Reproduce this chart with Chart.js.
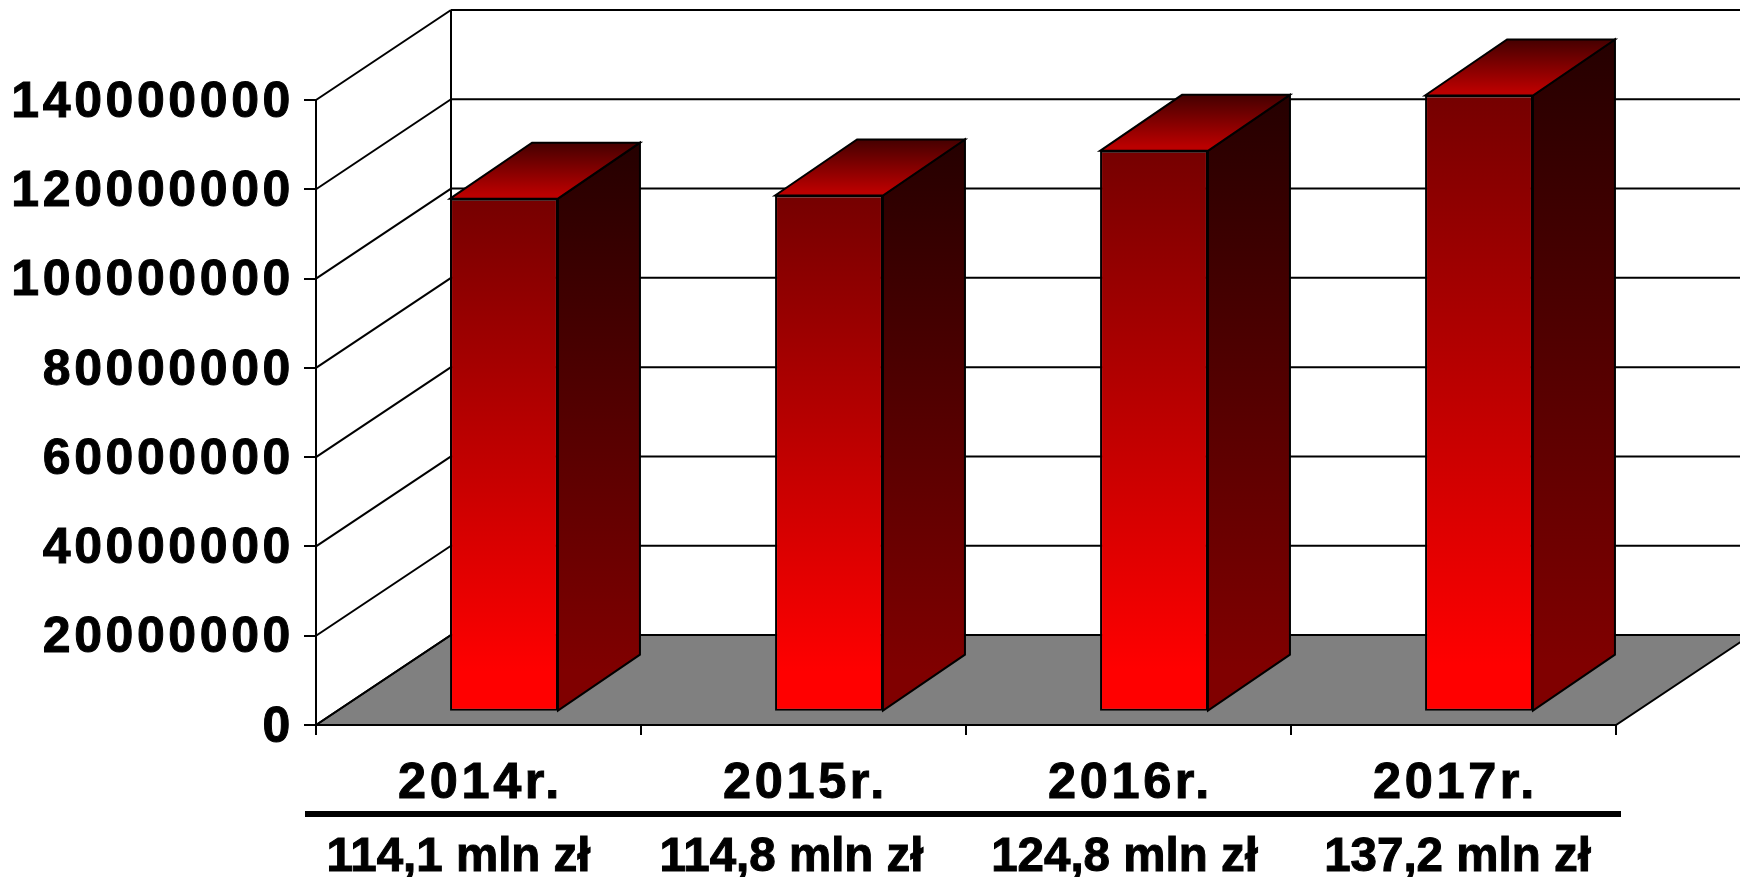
<!DOCTYPE html>
<html>
<head>
<meta charset="utf-8">
<script src="https://cdn.jsdelivr.net/npm/chart.js@4"></script>
<style>
  html, body { margin: 0; padding: 0; background: #fff; overflow: hidden; }
  canvas { display: block; }
</style>
</head>
<body>
<canvas id="barChart" width="1740" height="877"></canvas>
<script>
// Chart data
const years = ['2014r.', '2015r.', '2016r.', '2017r.'];
const budget = [114100000, 114800000, 124800000, 137200000];
const budgetLabels = ['114,1 mln zł', '114,8 mln zł', '124,8 mln zł', '137,2 mln zł'];

// Fake 3D: how far the back wall and the bars are pushed
const wallX = 135, wallY = 90;
const barShiftX = 25.5, barShiftY = 17;
const barDepthX = 82, barDepthY = 56;

function line(ctx, x1, y1, x2, y2) {
  ctx.beginPath();
  ctx.moveTo(x1, y1);
  ctx.lineTo(x2, y2);
  ctx.stroke();
}

function quad(ctx, pts, fill) {
  ctx.beginPath();
  ctx.moveTo(pts[0][0], pts[0][1]);
  pts.slice(1).forEach(p => ctx.lineTo(p[0], p[1]));
  ctx.closePath();
  ctx.fillStyle = fill;
  ctx.fill();
  ctx.strokeStyle = '#000';
  ctx.lineWidth = 2;
  ctx.stroke();
}

function vertical(ctx, top, bottom, c1, c2) {
  const g = ctx.createLinearGradient(0, top, 0, bottom);
  g.addColorStop(0, c1);
  g.addColorStop(0.93, c2); // last bit of the face is flat in the original
  return g;
}

const box3d = {
  id: 'box3d',
  // floor and walls go under the axes
  beforeDraw(chart) {
    const { ctx, chartArea: a, scales: { y } } = chart;
    ctx.save();
    quad(ctx, [[a.left, a.bottom], [a.left + wallX, a.bottom - wallY],
      [a.right + wallX, a.bottom - wallY], [a.right, a.bottom]], '#808080');
    ctx.strokeStyle = '#000';
    ctx.lineWidth = 2;
    y.ticks.forEach(t => {
      const py = y.getPixelForValue(t.value);
      line(ctx, a.left, py, a.left + wallX, py - wallY);
      if (t.value > 0) line(ctx, a.left + wallX, py - wallY, a.right + wallX, py - wallY);
    });
    line(ctx, a.left + wallX, a.top - wallY, a.left + wallX, a.bottom - wallY);
    ctx.restore();
    ctx.letterSpacing = '3.6px'; // tick labels are wide in the original
  },
  // side and top of the bars, front face comes from Chart.js
  beforeDatasetDraw(chart, args) {
    const { ctx } = chart;
    ctx.letterSpacing = '0px';
    ctx.save();
    ctx.translate(barShiftX, -barShiftY);
    args.meta.data.forEach(bar => {
      const left = bar.x - bar.width / 2, right = bar.x + bar.width / 2;
      quad(ctx, [[right, bar.y], [right + barDepthX, bar.y - barDepthY],
        [right + barDepthX, bar.base - barDepthY], [right, bar.base]],
        vertical(ctx, bar.y - barDepthY, bar.base, '#250000', '#800000'));
      quad(ctx, [[left, bar.y], [left + barDepthX, bar.y - barDepthY],
        [right + barDepthX, bar.y - barDepthY], [right, bar.y]],
        vertical(ctx, bar.y - barDepthY, bar.y, '#450000', '#bb0000'));
    });
  },
  afterDatasetDraw(chart) {
    chart.ctx.restore();
  },
  // rule and the amounts under the axis
  afterDraw(chart) {
    const { ctx, chartArea: a, scales: { x } } = chart;
    ctx.save();
    ctx.fillStyle = '#000';
    ctx.strokeStyle = '#000';
    ctx.lineWidth = 1;
    ctx.fillRect(a.left - 11, 811, a.right - a.left + 16, 6);
    ctx.font = 'bold 47.5px "Liberation Sans"';
    ctx.textAlign = 'center';
    ctx.textBaseline = 'alphabetic';
    budgetLabels.forEach((label, i) => {
      // these sit a little wider apart than the categories
      const px = x.getPixelForValue(i) - 20 + i * 8;
      ctx.fillText(label, px, 871);
      ctx.strokeText(label, px, 871);
    });
    ctx.restore();
  }
};

const ctx = document.getElementById('barChart').getContext('2d');
const barChart = new Chart(ctx, {
  type: 'bar',
  plugins: [box3d],
  data: {
    labels: years,
    datasets: [{
      data: budget,
      clip: false,
      base: -600000, // foot of the bar sits a touch lower than the shifted zero
      barPercentage: 0.332,
      categoryPercentage: 1,
      borderColor: '#000',
      borderWidth: 2,
      borderSkipped: false,
      backgroundColor: c => {
        const y = c.chart.scales.y;
        const top = y ? y.getPixelForValue(c.raw) : NaN;
        const bottom = y ? y.getPixelForValue(0) : NaN;
        if (!isFinite(top) || !isFinite(bottom)) return '#a00000'; // not laid out yet
        return vertical(c.chart.ctx, top, bottom, '#750000', '#ff0000');
      }
    }]
  },
  options: {
    responsive: false,
    animation: false,
    devicePixelRatio: 1,
    layout: { padding: { top: 100, right: 124, left: 0, bottom: 0 } },
    plugins: { legend: { display: false }, tooltip: { enabled: false } },
    scales: {
      x: {
        afterFit: s => { s.height = 152; },
        offset: true,
        border: { color: '#000', width: 2 },
        grid: { color: '#000', lineWidth: 2, drawOnChartArea: false, tickLength: 10 },
        ticks: {
          color: '#000',
          textStrokeColor: '#000',
          textStrokeWidth: 1,
          padding: 19,
          labelOffset: 2,
          maxRotation: 0,
          autoSkip: false,
          font: { family: 'Liberation Sans', weight: 'bold', size: 50.5 }
        }
      },
      y: {
        afterFit: s => { s.width = 316; },
        min: 0,
        max: 140000000,
        border: { color: '#000', width: 2 },
        grid: { color: '#000', lineWidth: 2, drawOnChartArea: false, tickLength: 12 },
        ticks: {
          color: '#000',
          textStrokeColor: '#000',
          textStrokeWidth: 1,
          padding: 10,
          labelOffset: 3,
          stepSize: 20000000,
          callback: v => String(v),
          font: { family: 'Liberation Sans', weight: 'bold', size: 50 }
        }
      }
    }
  }
});
</script>
</body>
</html>
